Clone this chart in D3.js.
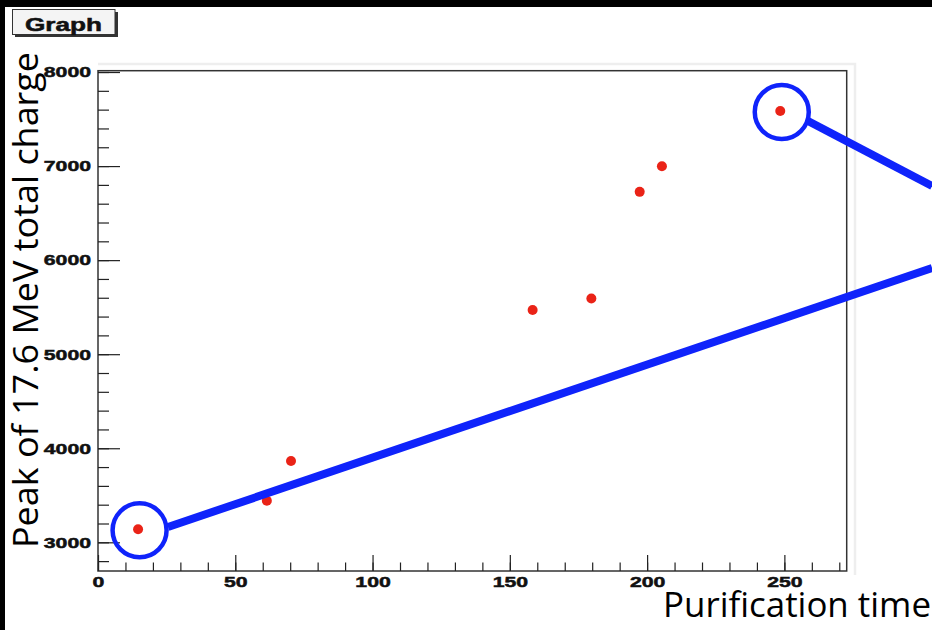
<!DOCTYPE html>
<html>
<head>
<meta charset="utf-8">
<script src="https://cdn.jsdelivr.net/npm/d3@7"></script>
<style>
  body { margin: 0; background: #000; }
  svg { display: block; }
</style>
</head>
<body>
<div id="ChartDiv"></div>
<script>
// measured points: purification time vs peak of 17.6 MeV total charge
var purTime = [14.6, 61.5, 70.3, 158.3, 179.7, 197.3, 205.4, 248.5];
var peakCharge = [3138, 3442, 3864, 5469, 5593, 6726, 6999, 7585];

// tick values
var xMajor = [0, 50, 100, 150, 200, 250];
var xMinor = d3.range(0, 271, 10);
var yMajor = [3000, 4000, 5000, 6000, 7000, 8000];
var yMinor = d3.range(2800, 8001, 200);

// blue annotations (data units): circled points and the two lines
var circledIdx = [0, 7];
var lineStartX = [25.5, 258.6];
var lineStartY = [3163, 7479];
var lineEndX = [303.8, 303.8];
var lineEndY = [5916, 6788];

function drawGraph() {
    var W = 932, H = 630;
    var labelFont = 'Liberation Sans, Arial, sans-serif';
    var digitW = 11.8; // stretched width of one label digit

    var x_scale = d3.scaleLinear()
        .domain([0, 272.7])
        .range([98, 846.7]);

    var y_scale = d3.scaleLinear()
        .domain([2695, 8014])
        .range([571, 70.7]);

    var svg = d3.select('#ChartDiv').append('svg')
        .attr('width', W)
        .attr('height', H);

    // black border round a white canvas
    svg.append('rect').attr('width', W).attr('height', H).style('fill', '#000');
    svg.append('rect').attr('x', 5).attr('y', 7)
        .attr('width', W - 5).attr('height', H - 7).style('fill', '#fff');

    //Title box with its shadow
    svg.append('rect')
        .attr('x', 15).attr('y', 12).attr('width', 103).attr('height', 25)
        .style('fill', '#333');
    svg.append('rect')
        .attr('x', 12.5).attr('y', 9.5).attr('width', 102.5).attr('height', 25)
        .style('fill', '#f4f4f4')
        .style('stroke', '#333')
        .style('stroke-width', 1);
    svg.append('text')
        .attr('x', 25)
        .attr('y', 31)
        .attr('textLength', 77)
        .attr('lengthAdjust', 'spacingAndGlyphs')
        .attr('font-family', labelFont)
        .attr('font-weight', 'bold')
        .attr('font-size', 18)
        .style('fill', '#111')
        .style('stroke', '#111')
        .style('stroke-width', 0.5)
        .text('Graph');

    // faint pad shadow behind the frame
    svg.append('path')
        .attr('d', 'M98,64 H855 V575')
        .style('fill', 'none')
        .style('stroke', '#eeeeee')
        .style('stroke-width', 2.5);

    //Frame
    svg.append('rect')
        .attr('x', x_scale.range()[0])
        .attr('y', y_scale.range()[1])
        .attr('width', x_scale.range()[1] - x_scale.range()[0])
        .attr('height', y_scale.range()[0] - y_scale.range()[1])
        .style('fill', 'none')
        .style('stroke', '#333')
        .style('stroke-width', 1.5);

    // y axis, minor then major ticks pointing inwards
    svg.append('g')
        .attr('transform', 'translate(98,0)')
        .call(d3.axisLeft(y_scale).tickValues(yMinor).tickSize(-11).tickFormat(''))
        .call(function(g) { g.select('.domain').remove(); });

    var yAxis = svg.append('g')
        .attr('transform', 'translate(98,0)')
        .call(d3.axisLeft(y_scale).tickValues(yMajor).tickSize(-22).tickPadding(7).tickFormat(d3.format('d')));
    yAxis.select('.domain').remove();

    // x axis
    svg.append('g')
        .attr('transform', 'translate(0,571)')
        .call(d3.axisBottom(x_scale).tickValues(xMinor).tickSize(-8.5).tickFormat(''))
        .call(function(g) { g.select('.domain').remove(); });

    var xAxis = svg.append('g')
        .attr('transform', 'translate(0,571)')
        .call(d3.axisBottom(x_scale).tickValues(xMajor).tickSize(-16).tickPadding(5));
    xAxis.select('.domain').remove();

    svg.selectAll('.tick line')
        .style('stroke', '#222')
        .style('stroke-width', 1.2);

    //Stretched bold tick labels like the ROOT canvas
    [xAxis, yAxis].forEach(function(ax) {
        ax.attr('font-family', labelFont)
            .attr('font-weight', 'bold')
            .attr('font-size', 15);
        ax.selectAll('text')
            .attr('textLength', function(d) { return String(d).length * digitW; })
            .attr('lengthAdjust', 'spacingAndGlyphs')
            .style('font-size', '15px')
            .style('fill', '#111')
            .style('stroke', '#111')
            .style('stroke-width', 0.5);
    });

    //Points
    svg.selectAll('.pt')
        .data(purTime)
        .enter().append('circle')
        .attr('class', 'pt')
        .attr('cx', function(d) { return x_scale(d); })
        .attr('cy', function(d, i) { return y_scale(peakCharge[i]); })
        .attr('r', 5)
        .style('fill', '#ea2317');

    //Blue annotation lines
    svg.selectAll('.ann')
        .data(lineStartX)
        .enter().append('line')
        .attr('class', 'ann')
        .attr('x1', function(d) { return x_scale(d); })
        .attr('y1', function(d, i) { return y_scale(lineStartY[i]); })
        .attr('x2', function(d, i) { return x_scale(lineEndX[i]); })
        .attr('y2', function(d, i) { return y_scale(lineEndY[i]); })
        .style('stroke', '#0f23fb')
        .style('stroke-width', 8);

    //Blue rings round two points
    svg.selectAll('.ring')
        .data(circledIdx)
        .enter().append('circle')
        .attr('class', 'ring')
        .attr('cx', function(d) { return x_scale(purTime[d]) + 1.5; })
        .attr('cy', function(d) { return y_scale(peakCharge[d]) + 1; })
        .attr('r', 27)
        .style('fill', 'none')
        .style('stroke', '#0f23fb')
        .style('stroke-width', 4.5);

    //Axis titles
    svg.append('text')
        .attr('transform', 'translate(37.5,548)rotate(-90)')
        .attr('textLength', 496)
        .attr('lengthAdjust', 'spacingAndGlyphs')
        .style('font-family', 'Open Sans, sans-serif')
        .style('font-size', '35px')
        .style('fill', '#000')
        .text('Peak of 17.6 MeV total charge');

    svg.append('text')
        .attr('x', 663)
        .attr('y', 617)
        .attr('textLength', 268)
        .attr('lengthAdjust', 'spacingAndGlyphs')
        .style('font-family', 'Open Sans, sans-serif')
        .style('font-size', '35px')
        .style('fill', '#000')
        .text('Purification time');
}

drawGraph();
</script>
</body>
</html>
